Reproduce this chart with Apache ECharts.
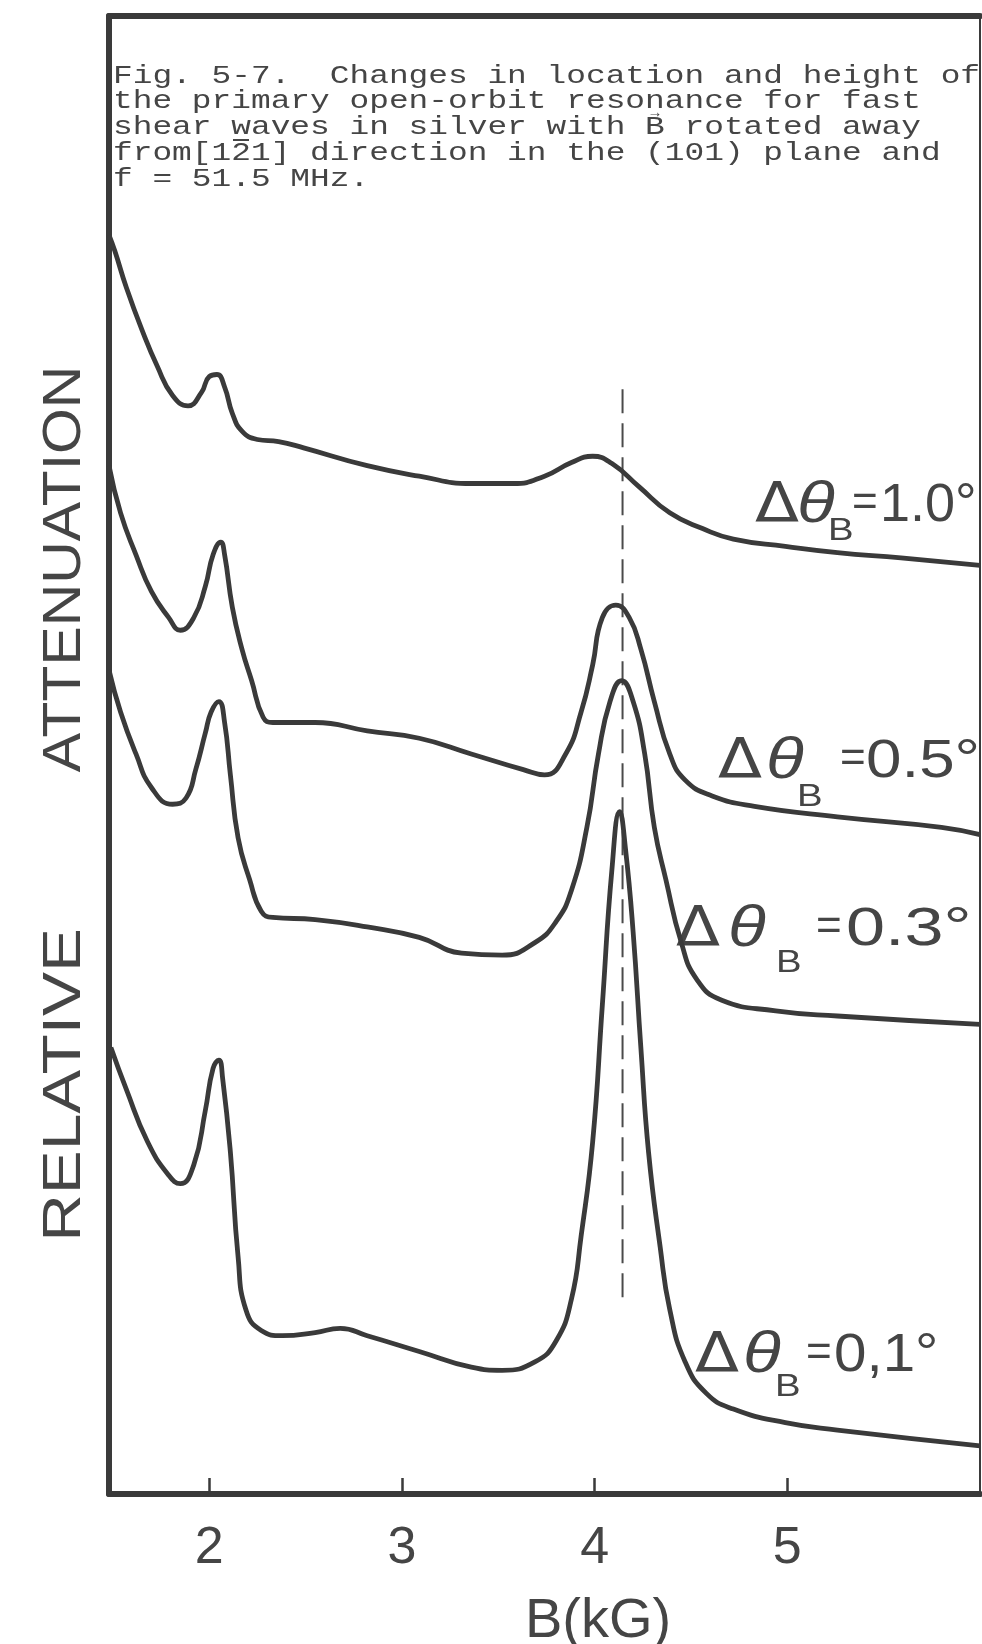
<!DOCTYPE html>
<html><head><meta charset="utf-8">
<script src="https://cdn.jsdelivr.net/npm/echarts@6/dist/echarts.min.js"></script>
<style>html,body{margin:0;padding:0;background:#fff}#c{width:982px;height:1644px}</style>
</head><body><div id="c"></div>
<script>
// ---- DATA (B in kG, relative attenuation in arbitrary units) ----
const curve10 = [[1.48,1201],[1.51,1186],[1.57,1151],[1.65,1111],[1.73,1076],[1.81,1048],[1.89,1038],[1.96,1051],[2.00,1066],[2.04,1068],[2.08,1056],[2.12,1031],[2.17,1014],[2.25,1006],[2.36,1004],[2.49,998],[2.82,981],[3.09,971],[3.36,964],[3.58,964],[3.74,971],[3.88,984],[3.99,990],[4.09,983],[4.23,961],[4.39,936],[4.56,921],[4.72,911],[4.99,904],[5.26,898],[5.59,893],[6.00,886]];
const curve05 = [[1.48,981],[1.54,936],[1.62,896],[1.70,861],[1.79,836],[1.85,824],[1.92,836],[1.98,866],[2.02,896],[2.06,908],[2.08,896],[2.12,846],[2.17,806],[2.22,776],[2.28,741],[2.33,736],[2.55,736],[2.82,728],[3.09,721],[3.36,706],[3.63,691],[3.74,686],[3.85,706],[3.93,746],[3.99,791],[4.04,836],[4.11,848],[4.18,836],[4.24,806],[4.31,756],[4.39,706],[4.47,681],[4.61,666],[4.83,656],[5.26,646],[5.80,636],[6.00,629]];
const curve03 = [[1.48,786],[1.54,746],[1.62,706],[1.70,674],[1.81,658],[1.88,664],[1.93,691],[1.98,726],[2.01,746],[2.05,756],[2.08,736],[2.11,686],[2.15,626],[2.21,586],[2.27,556],[2.33,550],[2.55,548],[2.82,541],[3.09,531],[3.31,516],[3.52,514],[3.69,526],[3.80,546],[3.88,576],[3.96,636],[4.02,706],[4.08,756],[4.14,776],[4.20,756],[4.26,706],[4.31,636],[4.37,586],[4.45,526],[4.53,491],[4.66,471],[4.94,461],[5.26,456],[6.00,448]];
const curve01 = [[1.49,426],[1.57,386],[1.68,336],[1.79,304],[1.85,296],[1.92,314],[1.98,366],[2.02,406],[2.05,414],[2.07,396],[2.11,326],[2.15,226],[2.19,176],[2.27,156],[2.38,151],[2.55,154],[2.68,158],[2.82,151],[3.09,136],[3.36,121],[3.52,118],[3.69,126],[3.80,146],[3.88,186],[3.93,246],[3.99,336],[4.04,466],[4.09,596],[4.13,651],[4.16,616],[4.20,536],[4.24,426],[4.28,326],[4.34,236],[4.39,176],[4.47,126],[4.58,96],[4.72,81],[4.99,68],[5.26,61],[6.00,46]];
const dashB = 4.145;
const dashSpan = [1054, 183];
const xTicks = [2, 3, 4, 5];
const xRange = [1.48, 6.0];
const yRange = [0, 1410];
const angleLabels = ['1.0°', '0.5°', '0.3°', '0,1°'];
const captionLines = [
  'Fig. 5-7.  Changes in location and height of',
  'the primary open-orbit resonance for fast',
  'shear waves in silver with B rotated away',
  'from[121] direction in the (101) plane and',
  'f = 51.5 MHz.'
];
const yTitleWords = ['ATTENUATION', 'RELATIVE'];
const xTitle = 'B(kG)';

// ---- LAYOUT / STYLE ----
const INK = '#3a3a3a';
const TXT = '#454545';
const SANS = '"Liberation Sans", Arial, sans-serif';
const labelPos = [
  {d:755, t:797, s:828, e:852, v:880, cy:506, sy:531, vs:1.0},
  {d:718, t:766, s:797, e:840, v:866, cy:762, sy:797, vs:1.18},
  {d:676, t:728, s:776, e:816, v:846, cy:930, sy:963, vs:1.3},
  {d:695, t:743, s:775, e:806, v:834, cy:1356, sy:1387, vs:1.08}
];

const chart = echarts.init(document.getElementById('c'));
const series = [curve10, curve05, curve03, curve01].map(d => ({
  type: 'line', data: d, smooth: 0.5, symbol: 'none',
  lineStyle: {color: INK, width: 4.8}, silent: true, z: 3
}));
series.push({
  type: 'line', data: [[dashB, dashSpan[0]], [dashB, dashSpan[1]]], symbol: 'none',
  lineStyle: {color: '#4a4a4a', width: 2, type: [24, 10]}, silent: true, z: 2
});

const graphic = [];
graphic.push({type:'text', x:113, y:63, scaleX:1.263, style:{text: captionLines.join('\n'), fontSize:26, fontFamily:'"Liberation Mono", monospace', fill:TXT, lineHeight:25.7, verticalAlign:'top'}});
graphic.push({type:'text', x:655, y:113, style:{text:'→', fontSize:15, fontFamily:SANS, fill:TXT, align:'center', verticalAlign:'middle'}});
graphic.push({type:'line', shape:{x1:233, y1:140, x2:249, y2:140}, style:{stroke:TXT, lineWidth:2}});
graphic.push({type:'text', x:65, y:569, rotation:Math.PI/2, scaleX:1.09, style:{text:yTitleWords[0], fontSize:54, fontFamily:SANS, fill:TXT, align:'center', verticalAlign:'middle'}});
graphic.push({type:'text', x:65, y:1085, rotation:Math.PI/2, scaleX:1.22, style:{text:yTitleWords[1], fontSize:54, fontFamily:SANS, fill:TXT, align:'center', verticalAlign:'middle'}});
graphic.push({type:'text', x:598, y:1622, style:{text:xTitle, fontSize:56, fontFamily:SANS, fill:TXT, align:'center', verticalAlign:'middle'}});
angleLabels.forEach((v, i) => {
  const p = labelPos[i];
  graphic.push({type:'text', x:p.d, y:p.cy, scaleX:1.15, style:{text:'Δ', fontSize:56, fontFamily:'"DejaVu Sans", sans-serif', fill:TXT, verticalAlign:'middle'}});
  graphic.push({type:'text', x:p.t, y:p.cy, scaleX:1.2, style:{text:'θ', fontSize:58, fontStyle:'italic', fontFamily:SANS, fill:TXT, verticalAlign:'middle'}});
  graphic.push({type:'text', x:p.s, y:p.sy, scaleX:1.2, style:{text:'B', fontSize:32, fontFamily:SANS, fill:TXT, verticalAlign:'middle'}});
  graphic.push({type:'text', x:p.e, y:p.cy - 2, style:{text:'=', fontSize:44, fontFamily:SANS, fill:TXT, verticalAlign:'middle'}});
  graphic.push({type:'text', x:p.v, y:p.cy, scaleX:p.vs, style:{text:v, fontSize:54, fontFamily:SANS, fill:TXT, verticalAlign:'middle'}});
});

chart.setOption({
  backgroundColor: '#ffffff',
  animation: false,
  grid: {left: 109, right: 2, top: 16, bottom: 150},
  xAxis: [{
    type: 'value', min: xRange[0], max: xRange[1], position: 'bottom',
    axisLine: {show: true, onZero: false, lineStyle: {color: INK, width: 6}},
    axisTick: {show: true, inside: true, length: 16, customValues: xTicks, lineStyle: {color: INK, width: 2.5}},
    axisLabel: {customValues: xTicks, margin: 29, fontSize: 52, color: TXT, fontFamily: SANS},
    splitLine: {show: false}
  }, {
    type: 'value', min: xRange[0], max: xRange[1], position: 'top',
    axisLine: {show: true, onZero: false, lineStyle: {color: INK, width: 6}},
    axisTick: {show: false}, axisLabel: {show: false}, splitLine: {show: false}
  }],
  yAxis: [{
    type: 'value', min: yRange[0], max: yRange[1], position: 'left',
    axisLine: {show: true, onZero: false, lineStyle: {color: INK, width: 6}},
    axisTick: {show: false}, axisLabel: {show: false}, splitLine: {show: false}
  }, {
    type: 'value', min: yRange[0], max: yRange[1], position: 'right',
    axisLine: {show: true, onZero: false, lineStyle: {color: INK, width: 2}},
    axisTick: {show: false}, axisLabel: {show: false}, splitLine: {show: false}
  }],
  series: series,
  graphic: graphic
});
</script></body></html>
